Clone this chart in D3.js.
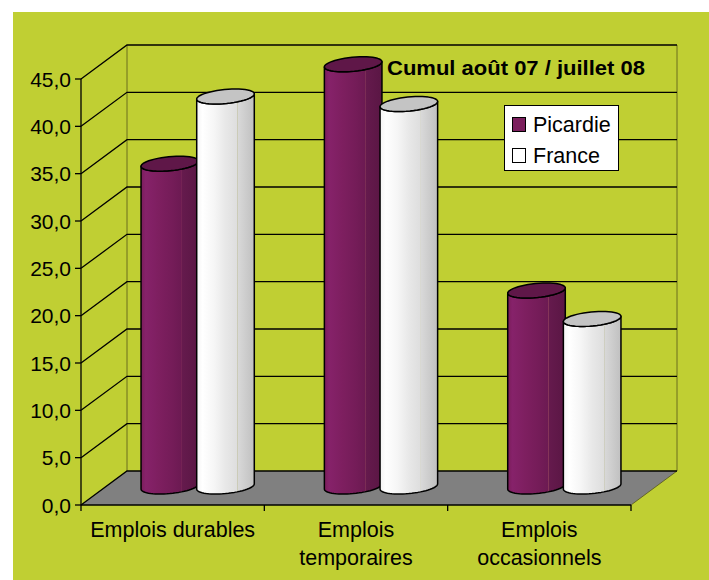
<!DOCTYPE html>
<html>
<head>
<meta charset="utf-8">
<script src="https://cdn.jsdelivr.net/npm/d3@7"></script>
<style>
  body { margin: 0; background: #fff; }
  svg text { font-family: "Liberation Sans", Arial, sans-serif; fill: #000; }
</style>
</head>
<body>
<div id="chart"></div>
<script>
// data
var categories = ["Emplois durables", "Emplois temporaires", "Emplois occasionnels"];
var categoryLines = [["Emplois durables"], ["Emplois", "temporaires"], ["Emplois", "occasionnels"]];
var series = ["Picardie", "France"];
var picardie = [34.1, 44.6, 20.7];
var france = [41.2, 40.4, 17.7];
var yTicks = [0, 5, 10, 15, 20, 25, 30, 35, 40, 45];
var title = "Cumul août 07 / juillet 08";

var W = 709, H = 580;
var svg = d3.select("#chart").append("svg")
    .attr("width", W)
    .attr("height", H);

svg.append("rect")
    .attr("x", 13).attr("y", 12)
    .attr("width", W - 13).attr("height", H - 12)
    .attr("fill", "#c0cf33");

var fmt = d3.formatLocale({decimal: ",", thousands: " ", grouping: [3], currency: ["", "€"]}).format(".1f");

// scales
var x0 = d3.scaleBand().domain(categories).range([81, 631]);
var x1 = d3.scaleBand().domain(series).range([36, x0.bandwidth() - 36]);
var y = d3.scaleLinear().domain([0, 45]).range([505, 79]);

var DX = 46, DY = 34;      // depth of the box
var OX = 25, OY = 18.5;    // depth of the bar centres
var R = 27, EX = 10, EY = -7.5; // cylinder radius / projected depth radius

var defs = svg.append("defs");
function grad(id, stops) {
  var g = defs.append("linearGradient").attr("id", id)
      .attr("x1", "0%").attr("x2", "100%").attr("y1", "0%").attr("y2", "0%");
  stops.forEach(function (s) {
    g.append("stop").attr("offset", s[0]).attr("stop-color", s[1]);
  });
}
grad("gPic", [["0%", "#7a1d5a"], ["8%", "#86226a"], ["30%", "#7e1f60"], ["55%", "#741c58"],
              ["70%", "#6c1a52"], ["71%", "#8a3a5a"], ["72%", "#651a4d"], ["100%", "#5a1644"]]);
grad("gFra", [["0%", "#f4f4f4"], ["10%", "#ffffff"], ["30%", "#f6f6f6"], ["50%", "#e8e8e8"],
              ["70%", "#dedede"], ["71%", "#c8c8b0"], ["72%", "#d8d8d8"], ["100%", "#c0c0c0"]]);

var colors = {
  Picardie: {body: "url(#gPic)", cap: "#5f1748", legend: "#7b1f5d"},
  France: {body: "url(#gFra)", cap: "#c4c4c4", legend: "#ffffff"}
};

// walls and floor
var walls = svg.append("g");
walls.append("path")
    .attr("d", "M81,505 L631,505 L" + (631 + DX) + "," + (505 - DY) + " L" + (81 + DX) + "," + (505 - DY) + " Z")
    .attr("fill", "#808080");

walls.append("line")
    .attr("x1", 81 + DX).attr("x2", 81 + DX)
    .attr("y1", y(0) - DY).attr("y2", y(45) - DY)
    .attr("stroke", "#55551a").attr("stroke-width", 0.8);
walls.append("line")
    .attr("x1", 631 + DX).attr("x2", 631 + DX)
    .attr("y1", y(0) - DY).attr("y2", y(45) - DY)
    .attr("stroke", "#55551a").attr("stroke-width", 0.8);
walls.append("line")
    .attr("x1", 631).attr("y1", y(0))
    .attr("x2", 631 + DX).attr("y2", y(0) - DY)
    .attr("stroke", "#55551a").attr("stroke-width", 0.8);

walls.selectAll("path.grid")
    .data(yTicks)
    .enter().append("path")
    .attr("class", "grid")
    .attr("d", function (t) {
      return "M81," + y(t) + " L" + (81 + DX) + "," + (y(t) - DY) + " L" + (631 + DX) + "," + (y(t) - DY);
    })
    .attr("fill", "none")
    .attr("stroke", "#000")
    .attr("stroke-width", 1.3);

// y axis
var yAxis = svg.append("g");
yAxis.append("line")
    .attr("x1", 81).attr("x2", 81).attr("y1", y(0)).attr("y2", y(45))
    .attr("stroke", "#000").attr("stroke-width", 1.3);
yAxis.selectAll("line.tick")
    .data(yTicks)
    .enter().append("line")
    .attr("class", "tick")
    .attr("x1", 75).attr("x2", 81)
    .attr("y1", function (t) { return y(t); })
    .attr("y2", function (t) { return y(t); })
    .attr("stroke", "#000").attr("stroke-width", 1.3);
yAxis.selectAll("text")
    .data(yTicks)
    .enter().append("text")
    .attr("x", 71)
    .attr("y", function (t) { return y(t); })
    .attr("dy", "0.36em")
    .attr("text-anchor", "end")
    .attr("font-size", "21px")
    .text(function (t) { return fmt(t); });

// x axis
var xAxis = svg.append("g");
xAxis.append("line")
    .attr("x1", 81).attr("x2", 631).attr("y1", y(0)).attr("y2", y(0))
    .attr("stroke", "#000").attr("stroke-width", 1.3);
var bounds = categories.map(function (c) { return x0(c); }).concat([631]);
xAxis.selectAll("line.tick")
    .data(bounds)
    .enter().append("line")
    .attr("class", "tick")
    .attr("x1", function (d) { return d; }).attr("x2", function (d) { return d; })
    .attr("y1", y(0)).attr("y2", y(0) + 6)
    .attr("stroke", "#000").attr("stroke-width", 1.3);
categories.forEach(function (c, i) {
  var t = xAxis.append("text")
      .attr("x", x0(c) + x0.bandwidth() / 2)
      .attr("y", 537)
      .attr("text-anchor", "middle")
      .attr("font-size", "21.5px");
  categoryLines[i].forEach(function (line, j) {
    t.append("tspan")
        .attr("x", x0(c) + x0.bandwidth() / 2)
        .attr("y", 537 + j * 28)
        .text(line);
  });
});

// cylinders
function pt(cx, cy, t) {
  return [cx + R * Math.cos(t) + EX * Math.sin(t), cy + EY * Math.sin(t)];
}
function cylinder(g, cx, cyTop, cyBot, col) {
  var t0 = Math.atan2(EX, R);
  var n = 30, i, p, d;
  var a = t0 + Math.PI, b = t0 + 2 * Math.PI;
  p = pt(cx, cyTop, a);
  d = "M" + p[0] + "," + p[1];
  p = pt(cx, cyBot, a);
  d += " L" + p[0] + "," + p[1];
  for (i = 1; i <= n; i++) {
    p = pt(cx, cyBot, a + (b - a) * i / n);
    d += " L" + p[0] + "," + p[1];
  }
  for (i = n; i >= 0; i--) {
    p = pt(cx, cyTop, a + (b - a) * i / n);
    d += " L" + p[0] + "," + p[1];
  }
  d += " Z";
  g.append("path").attr("d", d)
      .attr("fill", col.body)
      .attr("stroke", "#000").attr("stroke-width", 1.5)
      .attr("stroke-linejoin", "round");
  var c = "";
  for (i = 0; i < 48; i++) {
    p = pt(cx, cyTop, 2 * Math.PI * i / 48);
    c += (i ? " L" : "M") + p[0] + "," + p[1];
  }
  g.append("path").attr("d", c + " Z")
      .attr("fill", col.cap)
      .attr("stroke", "#000").attr("stroke-width", 1.5)
      .attr("stroke-linejoin", "round");
}

var bars = svg.append("g");
var values = {Picardie: picardie, France: france};
categories.forEach(function (c, i) {
  series.forEach(function (s) {
    var cx = x0(c) + x1(s) + x1.bandwidth() / 2 + OX;
    cylinder(bars, cx, y(values[s][i]) - OY, y(0) - OY, colors[s]);
  });
});

// title
svg.append("text")
    .attr("x", 387).attr("y", 75)
    .attr("font-size", "20px")
    .attr("font-weight", "bold")
    .attr("textLength", 258)
    .attr("lengthAdjust", "spacingAndGlyphs")
    .text(title);

// legend
var lg = svg.append("g");
lg.append("rect")
    .attr("x", 504.5).attr("y", 105.5)
    .attr("width", 114).attr("height", 65)
    .attr("fill", "#fff").attr("stroke", "#000").attr("stroke-width", 1);
series.forEach(function (s, i) {
  lg.append("rect")
      .attr("x", 512.5).attr("y", 117.5 + i * 31)
      .attr("width", 13).attr("height", 14)
      .attr("fill", colors[s].legend)
      .attr("stroke", "#000").attr("stroke-width", 1);
  lg.append("text")
      .attr("x", 533).attr("y", 131.5 + i * 31)
      .attr("font-size", "21.5px")
      .text(s);
});
</script>
</body>
</html>
